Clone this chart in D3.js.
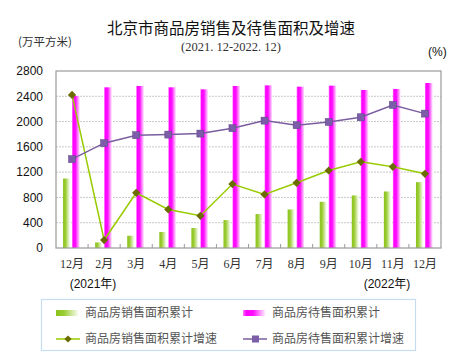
<!DOCTYPE html>
<html><head><meta charset="utf-8">
<script src="https://cdn.jsdelivr.net/npm/d3@7"></script>
<style>body{margin:0;background:#fff}svg{display:block}</style>
</head><body>
<script>
const categories = ["12月","2月","3月","4月","5月","6月","7月","8月","9月","10月","11月","12月"];
const salesArea = [1099, 88, 194, 253, 316, 442, 537, 610, 731, 831, 894, 1042];
const unsoldArea = [2405, 2542, 2563, 2542, 2510, 2563, 2573, 2552, 2568, 2500, 2516, 2610];
// growth rates (plotted on the hidden right axis, in chart units)
const salesGrowth = [2421, 126, 873, 610, 510, 1011, 847, 1031, 1226, 1363, 1284, 1173];
const unsoldGrowth = [1405, 1658, 1784, 1794, 1810, 1895, 2015, 1942, 1994, 2068, 2263, 2126];
const yTicks = [0, 400, 800, 1200, 1600, 2000, 2400, 2800];
const legendNames = ["商品房销售面积累计","商品房待售面积累计","商品房销售面积累计增速","商品房待售面积累计增速"];

const W = 460, H = 356;
const m = {l:56, r:19, t:71, b:108};
const svg = d3.select("body").append("svg").attr("width", W).attr("height", H);
const defs = svg.append("defs");
const gG = defs.append("linearGradient").attr("id","gGreen");
gG.append("stop").attr("offset","0%").attr("stop-color","#8cc21e");
gG.append("stop").attr("offset","35%").attr("stop-color","#9acd32");
gG.append("stop").attr("offset","100%").attr("stop-color","#ffffff");
const gP = defs.append("linearGradient").attr("id","gPink");
gP.append("stop").attr("offset","0%").attr("stop-color","#ff7bff");
gP.append("stop").attr("offset","15%").attr("stop-color","#ff00ff");
gP.append("stop").attr("offset","45%").attr("stop-color","#ff10ff");
gP.append("stop").attr("offset","100%").attr("stop-color","#ffffff");

const x = d3.scaleBand().domain(d3.range(categories.length)).range([m.l, W - m.r]);
const y = d3.scaleLinear().domain([0, 2800]).range([H - m.b, m.t]);
const yR = d3.scaleLinear().domain([0, 2800]).range([H - m.b, m.t]);
const cx = i => x(i) + x.bandwidth()/2;

// gridlines
svg.append("g").selectAll("line").data(yTicks.slice(1, -1)).join("line")
  .attr("x1", m.l).attr("x2", W - m.r)
  .attr("y1", d => y(d)).attr("y2", d => y(d))
  .attr("stroke", "#c8c8c8").attr("stroke-dasharray", "2,1");

// bars
svg.append("g").selectAll("rect").data(salesArea).join("rect")
  .attr("x", (d,i) => cx(i) - 9).attr("width", 7)
  .attr("y", d => y(d)).attr("height", d => y(0) - y(d))
  .attr("fill", "url(#gGreen)");
svg.append("g").selectAll("rect").data(unsoldArea).join("rect")
  .attr("x", (d,i) => cx(i)).attr("width", 8)
  .attr("y", d => y(d)).attr("height", d => y(0) - y(d))
  .attr("fill", "url(#gPink)");

// frame
svg.append("rect").attr("x", m.l).attr("y", m.t)
  .attr("width", W - m.l - m.r).attr("height", H - m.t - m.b)
  .attr("fill", "none").attr("stroke", "#9a9a9a").attr("stroke-width", 1.2);

// y axis
const ya = svg.append("g").attr("transform", `translate(${m.l},0)`)
  .call(d3.axisLeft(y).tickValues(yTicks).tickSize(0).tickPadding(13).tickFormat(d3.format("d")));
ya.select(".domain").remove();
ya.selectAll("text").attr("font-family", "Liberation Sans, Arial, sans-serif").attr("font-size", 12).attr("fill", "#111");

// x axis
const xa = svg.append("g").attr("transform", `translate(0,${H - m.b})`)
  .call(d3.axisBottom(x).tickSize(0).tickPadding(11).tickFormat(i => categories[i]));
xa.select(".domain").remove();
xa.selectAll("text").attr("font-family", "Liberation Serif, Noto Sans CJK SC, serif").attr("font-size", 12).attr("fill", "#333");
// inner ticks at category boundaries
svg.append("g").selectAll("line").data(d3.range(1, categories.length)).join("line")
  .attr("x1", i => x(i)).attr("x2", i => x(i))
  .attr("y1", H - m.b).attr("y2", H - m.b - 4)
  .attr("stroke", "#9a9a9a");

// lines
const lineS = d3.line().x((d,i) => cx(i)).y(d => yR(d));
svg.append("path").datum(salesGrowth).attr("d", lineS)
  .attr("fill", "none").attr("stroke", "#99cc00").attr("stroke-width", 1.5);
svg.append("path").datum(unsoldGrowth).attr("d", lineS)
  .attr("fill", "none").attr("stroke", "#7b5ea0").attr("stroke-width", 1.5);
svg.append("g").selectAll("path").data(salesGrowth).join("path")
  .attr("d", d3.symbol(d3.symbolSquare, 34))
  .attr("transform", (d,i) => `translate(${cx(i)},${yR(d)}) rotate(45)`)
  .attr("fill", "#6b6b00");
svg.append("g").selectAll("rect").data(unsoldGrowth).join("rect")
  .attr("x", (d,i) => cx(i) - 3.5).attr("y", d => yR(d) - 3.5)
  .attr("width", 7).attr("height", 7)
  .attr("fill", "#7b5ea7").attr("stroke", "#5c4585").attr("stroke-width", 0.5);

// titles
const cjk = "Noto Sans CJK SC, sans-serif";
svg.append("text").attr("x", 231).attr("y", 34).attr("text-anchor", "middle")
  .attr("font-family", cjk).attr("font-size", 15.5).attr("fill", "#111")
  .text("北京市商品房销售及待售面积及增速");
svg.append("text").attr("x", 231).attr("y", 51).attr("text-anchor", "middle")
  .attr("font-family", "Liberation Serif, serif").attr("font-size", 12.5).attr("fill", "#333")
  .text("(2021. 12-2022. 12)");
svg.append("text").attr("x", 18).attr("y", 46)
  .attr("font-family", cjk).attr("font-size", 11.5).attr("fill", "#333")
  .text("(万平方米)");
svg.append("text").attr("x", 428).attr("y", 56)
  .attr("font-family", "Liberation Sans, sans-serif").attr("font-size", 12).attr("fill", "#111")
  .text("(%)");
svg.append("text").attr("x", 93).attr("y", 288).attr("text-anchor", "middle")
  .attr("font-family", "Liberation Sans, Noto Sans CJK SC, sans-serif").attr("font-size", 12).attr("fill", "#111")
  .text("(2021年)");
svg.append("text").attr("x", 387).attr("y", 288).attr("text-anchor", "middle")
  .attr("font-family", "Liberation Sans, Noto Sans CJK SC, sans-serif").attr("font-size", 12).attr("fill", "#111")
  .text("(2022年)");

// legend
svg.append("rect").attr("x", 41.5).attr("y", 299.5).attr("width", 374).attr("height", 51)
  .attr("fill", "#fff").attr("stroke", "#c5dcf3").attr("stroke-width", 1.2);
const lg = [
  {x:56, y:313, t:"barG"}, {x:243, y:313, t:"barP"},
  {x:56, y:339, t:"lineG"}, {x:243, y:339, t:"lineP"}
];
lg.forEach((o, k) => {
  const g = svg.append("g");
  if (o.t === "barG") g.append("rect").attr("x", o.x).attr("y", o.y - 3).attr("width", 23).attr("height", 6).attr("fill", "url(#gGreen)");
  if (o.t === "barP") g.append("rect").attr("x", o.x).attr("y", o.y - 3).attr("width", 23).attr("height", 6).attr("fill", "url(#gPink)");
  if (o.t === "lineG") {
    g.append("line").attr("x1", o.x).attr("x2", o.x + 24).attr("y1", o.y).attr("y2", o.y).attr("stroke", "#99cc00").attr("stroke-width", 1.5);
    g.append("path").attr("d", d3.symbol(d3.symbolSquare, 26)).attr("transform", `translate(${o.x + 12},${o.y}) rotate(45)`).attr("fill", "#6b6b00");
  }
  if (o.t === "lineP") {
    g.append("line").attr("x1", o.x).attr("x2", o.x + 24).attr("y1", o.y).attr("y2", o.y).attr("stroke", "#7b5ea0").attr("stroke-width", 1.5);
    g.append("rect").attr("x", o.x + 9).attr("y", o.y - 3.5).attr("width", 7).attr("height", 7).attr("fill", "#7b5ea7");
  }
  g.append("text").attr("x", o.x + 29).attr("y", o.y + 4)
    .attr("font-family", cjk).attr("font-size", 12).attr("fill", "#555")
    .text(legendNames[k]);
});
</script>
</body></html>
